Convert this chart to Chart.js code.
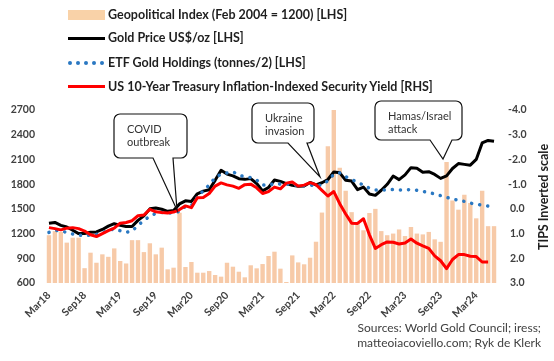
<!DOCTYPE html>
<html>
<head>
<meta charset="utf-8">
<script src="https://cdn.jsdelivr.net/npm/chart.js@4.4.1/dist/chart.umd.min.js"></script>
<style>
  html, body { margin: 0; padding: 0; background: #fff; }
  #wrap { position: relative; width: 554px; height: 361px; font-family: Lato, 'Open Sans', sans-serif; }
  #chart { position: absolute; left: 0; top: 0; }
  .leg { position: absolute; left: 108px; font-weight: bold; font-size: 12.5px; color: #1e1e1e; line-height: 16px; white-space: nowrap; }
  .sw { position: absolute; left: 68px; width: 37px; }
  .dot { position: absolute; width: 4px; height: 4px; border-radius: 50%; background: #2a78c2; }
  #ytitle { position: absolute; left: 474px; top: 189px; width: 140px; text-align: center; transform: rotate(-90deg);
            font-weight: bold; font-size: 12.5px; color: #1e1e1e; line-height: 16px; white-space: nowrap; }
  #src { position: absolute; right: 13px; top: 320px; text-align: right; font-size: 12px; line-height: 15px; color: #404040; }
</style>
</head>
<body>
<div id="wrap">
  <canvas id="chart" width="554" height="361"></canvas>

  <div class="sw" style="top:10px;height:10px;background:#f9d2a8;"></div>
  <div class="leg" style="top:7px;">Geopolitical Index (Feb 2004 = 1200) [LHS]</div>
  <div class="sw" style="top:37px;height:3px;background:#000;"></div>
  <div class="leg" style="top:30px;">Gold Price US$/oz [LHS]</div>
  <div class="sw" id="dots" style="top:61px;height:4px;"></div>
  <div class="leg" style="top:55px;">ETF Gold Holdings (tonnes/2) [LHS]</div>
  <div class="sw" style="top:85px;height:3px;background:#ff0000;"></div>
  <div class="leg" style="top:79px;">US 10-Year Treasury Inflation-Indexed Security Yield [RHS]</div>

  <div id="ytitle">TIPS Inverted scale</div>
  <div id="src">Sources: World Gold Council; iress;<br>matteoiacoviello.com; Ryk de Klerk</div>
</div>

<script>
// categories, Mar18 .. Jun24
const months = [
    'Mar18', 'Apr18', 'May18', 'Jun18', 'Jul18', 'Aug18', 'Sep18', 'Oct18', 'Nov18', 'Dec18',
    'Jan19', 'Feb19', 'Mar19', 'Apr19', 'May19', 'Jun19', 'Jul19', 'Aug19', 'Sep19', 'Oct19', 'Nov19', 'Dec19',
    'Jan20', 'Feb20', 'Mar20', 'Apr20', 'May20', 'Jun20', 'Jul20', 'Aug20', 'Sep20', 'Oct20', 'Nov20', 'Dec20',
    'Jan21', 'Feb21', 'Mar21', 'Apr21', 'May21', 'Jun21', 'Jul21', 'Aug21', 'Sep21', 'Oct21', 'Nov21', 'Dec21',
    'Jan22', 'Feb22', 'Mar22', 'Apr22', 'May22', 'Jun22', 'Jul22', 'Aug22', 'Sep22', 'Oct22', 'Nov22', 'Dec22',
    'Jan23', 'Feb23', 'Mar23', 'Apr23', 'May23', 'Jun23', 'Jul23', 'Aug23', 'Sep23', 'Oct23', 'Nov23', 'Dec23',
    'Jan24', 'Feb24', 'Mar24', 'Apr24', 'May24', 'Jun24'
];

// Geopolitical index (bars, LHS)
const geoIndex = [
    1180, 1230, 1220, 1090, 1150, 1150, 780, 968, 846, 948,
    918, 1020, 867, 837, 1120, 1120, 975, 1082, 948, 1029, 766, 786,
    1453, 794, 855, 725, 725, 745, 697, 677, 846, 798, 737, 669,
    815, 778, 830, 928, 980, 774, 612, 935, 850, 827, 907, 1101,
    1455, 2260, 2700, 2000, 1720, 1460, 1330, 1240, 1450, 1500, 1230, 1180,
    1200, 1250, 1170, 1280, 1200, 1190, 1220, 1130, 1100, 2070, 1600, 1490,
    1670, 1570, 1385, 1720, 1290, 1290
];

// Gold price US$/oz (LHS)
const goldPrice = [
    1325, 1335, 1300, 1280, 1240, 1200, 1200, 1215, 1220, 1250,
    1290, 1320, 1300, 1285, 1285, 1360, 1415, 1500, 1510, 1495, 1470, 1480,
    1560, 1597, 1590, 1683, 1715, 1732, 1846, 1968, 1922, 1900, 1866, 1858,
    1867, 1808, 1718, 1760, 1850, 1834, 1807, 1785, 1775, 1777, 1821, 1790,
    1817, 1856, 1948, 1937, 1848, 1837, 1733, 1764, 1681, 1664, 1726, 1798,
    1898, 1855, 1912, 2000, 1992, 1943, 1951, 1918, 1870, 1900, 1990, 2050,
    2040, 2030, 2100, 2300, 2330, 2320
];

// ETF gold holdings, tonnes/2 (LHS)
const etfHoldings = [
    1215, 1240, 1230, 1215, 1195, 1180, 1175, 1180, 1190, 1210,
    1240, 1255, 1235, 1215, 1230, 1300, 1360, 1410, 1445, 1455, 1450, 1450,
    1470, 1530, 1540, 1640, 1720, 1790, 1880, 1920, 1935, 1950, 1910, 1890,
    1880, 1850, 1790, 1785, 1810, 1800, 1800, 1800, 1780, 1780, 1790, 1780,
    1790, 1840, 1920, 1935, 1890, 1860, 1820, 1790, 1750, 1730, 1730, 1730,
    1735, 1730, 1730, 1735, 1725, 1710, 1700, 1680, 1660, 1640, 1620, 1605,
    1590, 1570, 1555, 1545, 1535, null
];

// 10y TIPS yield, % (RHS, inverted)
const tipsYield = [
    0.76, 0.80, 0.85, 0.78, 0.76, 0.80, 0.90, 1.05, 1.12, 1.00,
    0.88, 0.78, 0.58, 0.55, 0.48, 0.28, 0.25, 0.02, 0.12, 0.15, 0.17, 0.13,
    0.03, -0.12, -0.05, -0.45, -0.46, -0.62, -0.92, -1.05, -0.97, -0.92, -0.83, -0.98,
    -1.00, -0.85, -0.62, -0.70, -0.88, -0.81, -1.04, -1.09, -0.92, -0.96, -1.06, -0.98,
    -0.75, -0.52, -0.70, -0.21, 0.21, 0.58, 0.59, 0.40, 1.05, 1.60, 1.45, 1.34,
    1.35, 1.42, 1.38, 1.22, 1.39, 1.50, 1.60, 1.90, 2.10, 2.42, 2.05, 1.85,
    1.85, 1.92, 1.93, 2.15, 2.15, null
];

// callout boxes: [left, top, right, bottom], tail base x's, tip point
const callouts = [
    { lines: ['COVID', 'outbreak'], box: [114, 114, 187, 158], tail: [153, 173], tip: [177, 210] },
    { lines: ['Ukraine', 'invasion'], box: [252, 103, 314, 143], tail: [288, 307], tip: [320, 177] },
    { lines: ['Hamas/Israel', 'attack'], box: [375, 101, 462, 140], tail: [430, 452], tip: [443, 159] }
];

// legend dots
const dotsBox = document.getElementById('dots');
for (let i = 0; i < 5; i++) {
    const d = document.createElement('div');
    d.className = 'dot';
    d.style.left = (i * 8) + 'px';
    d.style.top = '0px';
    dotsBox.appendChild(d);
}

const calloutPlugin = {
    id: 'callouts',
    afterDatasetsDraw(chart) {
        const ctx = chart.ctx;
        ctx.save();
        callouts.forEach(c => {
            const [l, t, r, b] = c.box;
            const rad = 6;
            ctx.beginPath();
            ctx.moveTo(l + rad, t);
            ctx.lineTo(r - rad, t);
            ctx.arcTo(r, t, r, t + rad, rad);
            ctx.lineTo(r, b - rad);
            ctx.arcTo(r, b, r - rad, b, rad);
            ctx.lineTo(c.tail[1], b);
            ctx.lineTo(c.tip[0], c.tip[1]);
            ctx.lineTo(c.tail[0], b);
            ctx.lineTo(l + rad, b);
            ctx.arcTo(l, b, l, b - rad, rad);
            ctx.lineTo(l, t + rad);
            ctx.arcTo(l, t, l + rad, t, rad);
            ctx.closePath();
            ctx.fillStyle = '#fff';
            ctx.fill();
            ctx.lineWidth = 1.2;
            ctx.strokeStyle = '#111';
            ctx.stroke();

            ctx.fillStyle = '#333';
            ctx.font = '11px Lato, "Open Sans", sans-serif';
            ctx.textBaseline = 'middle';
            ctx.textAlign = 'left';
            c.lines.forEach((s, i) => ctx.fillText(s, l + 13, t + 15 + i * 13));
        });
        ctx.restore();
    }
};

Chart.defaults.font.family = 'Lato, "Open Sans", sans-serif';

new Chart(document.getElementById('chart'), {
    type: 'bar',
    data: {
        labels: months,
        datasets: [
            {
                type: 'line',
                label: 'US 10-Year Treasury Inflation-Indexed Security Yield [RHS]',
                data: tipsYield,
                yAxisID: 'y1',
                borderColor: '#ff0000',
                borderWidth: 3,
                pointRadius: 0,
                tension: 0,
                borderJoinStyle: 'round',
                order: 0
            },
            {
                type: 'line',
                label: 'ETF Gold Holdings (tonnes/2) [LHS]',
                data: etfHoldings,
                yAxisID: 'y',
                borderColor: '#2a78c2',
                borderWidth: 3.5,
                borderDash: [0.1, 8],
                borderCapStyle: 'round',
                pointRadius: 0,
                tension: 0,
                order: 1
            },
            {
                type: 'line',
                label: 'Gold Price US$/oz [LHS]',
                data: goldPrice,
                yAxisID: 'y',
                borderColor: '#000',
                borderWidth: 3,
                pointRadius: 0,
                tension: 0,
                borderJoinStyle: 'round',
                order: 2
            },
            {
                label: 'Geopolitical Index (Feb 2004 = 1200) [LHS]',
                data: geoIndex,
                yAxisID: 'y',
                backgroundColor: '#f7caa8',
                barPercentage: 0.74,
                categoryPercentage: 1.0,
                order: 3
            }
        ]
    },
    options: {
        responsive: false,
        animation: false,
        layout: { padding: { top: 110, left: 0, right: 0, bottom: 0 } },
        plugins: { legend: { display: false }, tooltip: { enabled: false } },
        scales: {
            x: {
                offset: true,
                grid: { display: false, drawTicks: false },
                border: { display: false },
                ticks: {
                    autoSkip: false,
                    maxRotation: 45,
                    minRotation: 45,
                    padding: 6,
                    color: '#404040',
                    font: { size: 10.5, weight: 'bold' },
                    callback: (v, i) => (i % 6 === 0 ? months[i] : '')
                },
                afterFit: s => { s.height = 78; }
            },
            y: {
                position: 'left',
                min: 600,
                max: 2700,
                grid: { display: false, drawTicks: false },
                border: { display: false },
                ticks: {
                    stepSize: 300,
                    padding: 11,
                    color: '#404040',
                    font: { size: 10.5, weight: 'bold' },
                    callback: v => String(v)
                },
                afterFit: s => { s.width = 46; }
            },
            y1: {
                position: 'right',
                reverse: true,
                min: -4,
                max: 3,
                grid: { display: false, drawTicks: false },
                border: { display: false },
                ticks: {
                    stepSize: 1,
                    padding: 11,
                    crossAlign: 'center',
                    color: '#404040',
                    font: { size: 10.5, weight: 'bold' },
                    callback: v => Number(v).toFixed(1)
                },
                afterFit: s => { s.width = 57; }
            }
        }
    },
    plugins: [calloutPlugin]
});
</script>
</body>
</html>
